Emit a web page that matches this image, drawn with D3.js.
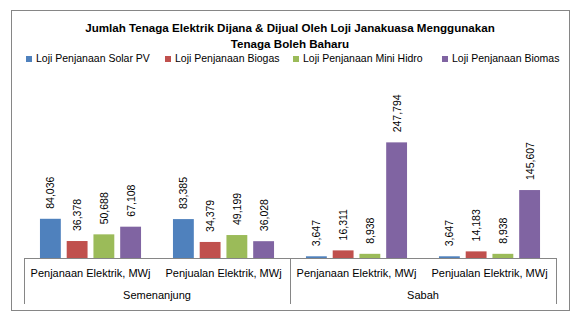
<!DOCTYPE html>
<html><head><meta charset="utf-8">
<script src="https://cdn.jsdelivr.net/npm/d3@7"></script>
<style>body{margin:0;background:#fff}svg{display:block}text{font-family:"Liberation Sans",Arial,sans-serif}</style>
</head><body>
<script>
const titleLines = ["Jumlah Tenaga Elektrik Dijana & Dijual Oleh Loji Janakuasa Menggunakan", "Tenaga Boleh Baharu"];
const regions = ["Semenanjung", "Sabah"];
const measures = ["Penjanaan Elektrik, MWj", "Penjualan Elektrik, MWj"];
const seriesNames = ["Loji Penjanaan Solar PV", "Loji Penjanaan Biogas", "Loji Penjanaan Mini Hidro", "Loji Penjanaan Biomas"];
const colors = ["#4F81BD", "#C0504D", "#9BBB59", "#8064A2"];
// values per category in order: Semenanjung-Penjanaan, Semenanjung-Penjualan, Sabah-Penjanaan, Sabah-Penjualan
const solarPV = [84036, 83385, 3647, 3647];
const biogas = [36378, 34379, 16311, 14183];
const miniHidro = [50688, 49199, 8938, 8938];
const biomas = [67108, 36028, 247794, 145607];
const seriesValues = [solarPV, biogas, miniHidro, biomas];

const W = 582, H = 324;
const svg = d3.select("body").append("svg").attr("width", W).attr("height", H);
svg.append("rect").attr("x", 11.5).attr("y", 10.5).attr("width", 558).attr("height", 300)
  .attr("fill", "#fff").attr("stroke", "#868686").attr("stroke-width", 1);

// title
svg.append("g").selectAll("text").data(titleLines).join("text")
  .attr("x", 290).attr("y", (d, i) => 32 + i * 16).attr("text-anchor", "middle")
  .attr("font-size", "11.6px").attr("font-weight", "bold").attr("fill", "#000").text(d => d);

// legend
const legendX = [26, 165, 293, 442];
const lg = svg.append("g").selectAll("g").data(seriesNames).join("g")
  .attr("transform", (d, i) => `translate(${legendX[i]},0)`);
lg.append("rect").attr("x", 0).attr("y", 56).attr("width", 6).attr("height", 6).attr("fill", (d, i) => colors[i]);
lg.append("text").attr("x", 10).attr("y", 62).attr("font-size", "10.5px").attr("fill", "#000").text(d => d);

// categories
const cats = [];
regions.forEach(r => measures.forEach(m => cats.push(r + "|" + m)));
const left = 24, right = 556, base = 258;
const x0 = d3.scaleBand().domain(cats).range([left, right]).paddingInner(0.24).paddingOuter(0.12);
const x1 = d3.scaleBand().domain(d3.range(4)).range([0, x0.bandwidth()]).paddingInner(0.22);
const y = d3.scaleLinear().domain([0, 300000]).range([base, 118]);

const rows = [];
cats.forEach((c, ci) => seriesValues.forEach((vals, si) => rows.push({c, si, v: vals[ci]})));

const bars = svg.append("g");
bars.selectAll("rect").data(rows).join("rect")
  .attr("x", d => x0(d.c) + x1(d.si)).attr("y", d => y(d.v))
  .attr("width", x1.bandwidth()).attr("height", d => base - y(d.v))
  .attr("fill", d => colors[d.si]);

const fmt = d3.format(",");
bars.selectAll("text").data(rows).join("text")
  .attr("transform", d => `translate(${x0(d.c) + x1(d.si) + x1.bandwidth() / 2 + 4},${y(d.v) - 10}) rotate(-90)`)
  .attr("font-size", "10.5px").attr("fill", "#000").text(d => fmt(d.v));

// axis
const ax = svg.append("g").attr("stroke", "#868686").attr("stroke-width", 1);
ax.append("line").attr("x1", left).attr("x2", right).attr("y1", base + 0.5).attr("y2", base + 0.5);
const regionBand = d3.scaleBand().domain(regions).range([left, right]);
[left, regionBand("Sabah"), right].forEach(xv => {
  ax.append("line").attr("x1", Math.round(xv) + 0.5).attr("x2", Math.round(xv) + 0.5).attr("y1", base).attr("y2", 304);
});
svg.append("g").selectAll("text").data(cats).join("text")
  .attr("x", d => x0(d) + x0.bandwidth() / 2).attr("y", 277).attr("text-anchor", "middle")
  .attr("font-size", "11px").attr("fill", "#000").text(d => d.split("|")[1]);
svg.append("g").selectAll("text").data(regions).join("text")
  .attr("x", d => regionBand(d) + regionBand.bandwidth() / 2).attr("y", 299).attr("text-anchor", "middle")
  .attr("font-size", "11px").attr("fill", "#000").text(d => d);
</script>
</body></html>
